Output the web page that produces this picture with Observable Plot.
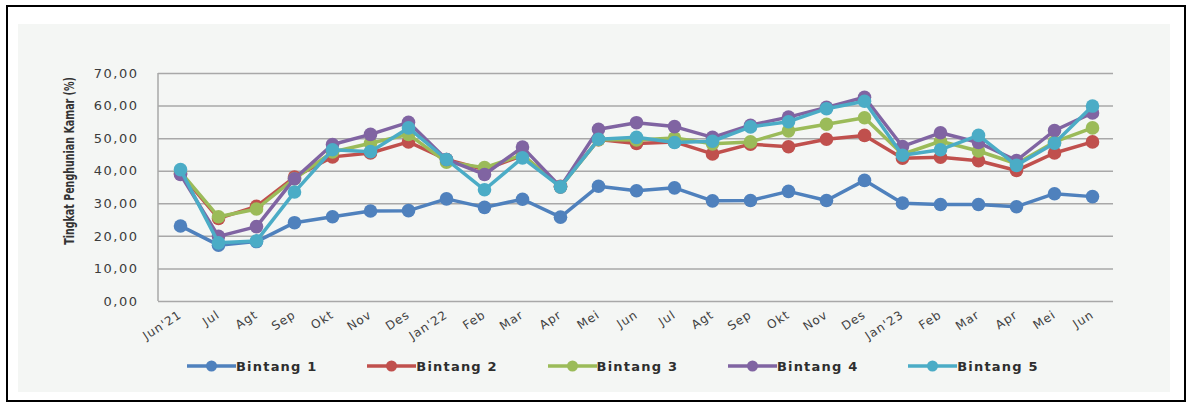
<!DOCTYPE html>
<html>
<head>
<meta charset="utf-8">
<script src="https://cdn.jsdelivr.net/npm/d3@7"></script>
<script src="https://cdn.jsdelivr.net/npm/@observablehq/plot@0.6"></script>
<style>
  body { margin: 0; background: #ffffff; }
  #wrap { position: relative; width: 1192px; height: 405px; overflow: hidden; background: #ffffff; }
  #frame { position: absolute; left: 6px; top: 5px; width: 1176px; height: 393px; border: 2px solid #000; }
  #panel { position: absolute; left: 18px; top: 24px; width: 1152px; height: 368px; background: #f4f6f4; }
  #chart { position: absolute; left: 0; top: 0; }
  #ytitle { position: absolute; left: 69px; top: 161px; white-space: nowrap;
            font-family: "Liberation Sans Narrow", "DejaVu Sans Condensed", "Liberation Sans", sans-serif;
            font-weight: bold; font-size: 14px; color: #333; line-height: 16px; }
  #legend { position: absolute; left: 0; top: 356px; width: 1192px; height: 20px; }
  .item { position: absolute; top: 0; display: flex; align-items: center; height: 20px; }
  .item span { font-family: "DejaVu Sans", sans-serif; font-weight: bold; font-size: 13px; letter-spacing: 1.2px; color: #2e2e2e; }
  #chart g[aria-label="y-axis tick label"] text { letter-spacing: 1.5px; }
  #chart g[aria-label="x-axis tick label"] text { letter-spacing: 1px; }
</style>
</head>
<body>
<div id="wrap">
  <div id="frame"></div>
  <div id="panel"></div>
  <div id="chart"></div>
  <div id="ytitle">Tingkat Penghunian Kamar (%)</div>
  <div id="legend"></div>
</div>
<script>
const months = ["Jun'21","Jul","Agt","Sep","Okt","Nov","Des","Jan'22","Feb","Mar","Apr","Mei","Jun","Jul","Agt","Sep","Okt","Nov","Des","Jan'23","Feb","Mar","Apr","Mei","Jun"];
const seriesNames = ["Bintang 1","Bintang 2","Bintang 3","Bintang 4","Bintang 5"];
const seriesColors = ["#4F81BD","#C0504D","#9BBB59","#8064A2","#4BACC6"];
const yTicks = [0,10,20,30,40,50,60,70];

const bintang1 = [23.2,17.3,18.4,24.2,26.0,27.8,27.9,31.5,28.9,31.4,25.9,35.4,34.0,34.9,30.9,31.0,33.8,31.0,37.2,30.2,29.8,29.8,29.1,33.1,32.2];
const bintang2 = [39.3,25.5,29.2,38.2,44.4,45.6,49.0,43.6,40.5,44.8,35.4,49.7,48.5,49.0,45.3,48.3,47.5,49.8,51.0,44.0,44.3,43.2,40.2,45.6,49.0];
const bintang3 = [39.8,26.0,28.4,37.7,45.9,48.6,51.3,42.8,41.1,45.0,35.2,49.7,49.6,50.2,48.4,49.0,52.4,54.4,56.4,45.2,49.2,46.2,42.3,49.0,53.3];
const bintang4 = [39.0,20.0,23.0,37.7,48.2,51.3,55.0,43.6,39.0,47.4,35.2,52.9,54.9,53.7,50.4,54.1,56.6,59.6,62.7,47.6,51.8,48.8,43.3,52.5,57.9];
const bintang5 = [40.5,18.0,18.6,33.6,46.6,46.0,53.3,43.6,34.3,44.1,35.2,49.8,50.4,48.8,49.2,53.6,55.2,59.2,61.5,44.9,46.6,51.0,41.8,48.6,60.0];

const allSeries = [bintang1, bintang2, bintang3, bintang4, bintang5];
const rows = allSeries.map((vals, s) => vals.map((v, i) => ({i, v, series: seriesNames[s]})));

const seriesMarks = rows.flatMap(data => [
  Plot.lineY(data, {x: "i", y: "v", stroke: "series", strokeWidth: 3.5, strokeLinejoin: "round"}),
  Plot.dot(data, {x: "i", y: "v", fill: "series", r: 6.8, stroke: null})
]);

const chart = Plot.plot({
  width: 1192,
  height: 345,
  marginLeft: 158,
  marginRight: 79,
  marginTop: 73,
  marginBottom: 44,
  style: {background: "transparent", overflow: "visible", fontFamily: "DejaVu Sans, sans-serif"},
  x: {type: "point", domain: d3.range(months.length), padding: 0.5, label: null},
  y: {domain: [0, 70], label: null},
  color: {domain: seriesNames, range: seriesColors},
  marks: [
    Plot.gridY(yTicks, {stroke: "#a8a8a8", strokeOpacity: 1, strokeWidth: 1.5}),
    Plot.axisY(yTicks, {tickSize: 0, tickPadding: 20, tickFormat: d => d.toFixed(2).replace(".", ","),
      fontSize: 13, fill: "#3c3c3c", label: null}),
    Plot.axisX({tickSize: 0, tickPadding: 12, tickRotate: -33, tickFormat: i => months[i],
      fontSize: 12, fill: "#404040", label: null}),
    ...seriesMarks
  ]
});

// left axis line
const ys = chart.scale("y");
d3.select(chart).insert("line", "g[aria-label='y-axis tick label']")
  .attr("x1", 158).attr("x2", 158)
  .attr("y1", ys.apply(0)).attr("y2", ys.apply(70))
  .attr("stroke", "#a8a8a8").attr("stroke-width", 1.5);

document.getElementById("chart").appendChild(chart);

// y-axis title: rotate and fit to the reference's length
const t = document.getElementById("ytitle");
const w = t.offsetWidth, h = t.offsetHeight;
const sx = Math.min(1, 168 / w);
t.style.left = (69 - w / 2) + "px";
t.style.top = (161 - h / 2) + "px";
t.style.transform = `rotate(-90deg) scaleX(${sx})`;

// legend
const legend = d3.select("#legend");
seriesNames.forEach((name, k) => {
  const item = legend.append("div").attr("class", "item").style("left", (187 + k * 180.3) + "px");
  const svg = item.append("svg").attr("width", 49).attr("height", 14);
  svg.append("line").attr("x1", 0).attr("x2", 49).attr("y1", 7).attr("y2", 7)
    .attr("stroke", seriesColors[k]).attr("stroke-width", 3.5);
  svg.append("circle").attr("cx", 24.5).attr("cy", 7).attr("r", 5.5).attr("fill", seriesColors[k]);
  item.append("span").text(name);
});
</script>
</body>
</html>
